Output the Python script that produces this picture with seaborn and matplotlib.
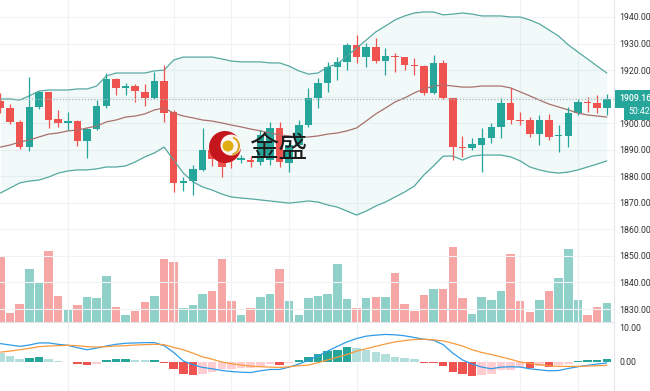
import numpy as np
import matplotlib
matplotlib.use("Agg")
import matplotlib.pyplot as plt
import seaborn as sns
from matplotlib.patches import Circle, Wedge

# ---- data (hourly gold candles) ----
opens = [1908.4, 1905.7, 1900.5, 1891.0, 1906.1, 1911.8, 1901.6, 1900.1, 1900.8, 1893.3,
         1897.8, 1906.5, 1916.6, 1913.3, 1914.0, 1911.8, 1909.5, 1915.9, 1904.2, 1877.5,
         1878.2, 1882.4, 1889.9, 1886.5, 1886.8, 1886.1, 1886.1, 1885.4, 1886.1, 1898.2,
         1885.0, 1891.8, 1899.3, 1909.5, 1915.1, 1921.2, 1923.1, 1929.5, 1924.9, 1928.7,
         1923.4, 1925.3, 1924.9, 1921.9, 1921.5, 1911.4, 1922.7, 1909.5, 1891.0, 1890.7,
         1891.8, 1894.4, 1898.6, 1907.6, 1901.2, 1901.2, 1895.9, 1901.2, 1895.2, 1895.2,
         1903.8, 1908.0, 1907.6, 1905.7]
highs = [1911.4, 1907.2, 1901.2, 1917.4, 1912.1, 1911.9, 1905.0, 1904.2, 1901.2, 1898.2,
         1908.7, 1918.9, 1917.0, 1915.1, 1914.8, 1914.8, 1919.3, 1921.9, 1905.0, 1879.7,
         1884.3, 1898.2, 1891.5, 1888.0, 1888.5, 1888.0, 1887.5, 1897.4, 1900.5, 1900.5,
         1893.7, 1901.2, 1913.3, 1917.0, 1923.1, 1924.9, 1930.2, 1933.2, 1930.2, 1932.1,
         1928.3, 1926.4, 1925.0, 1924.6, 1922.0, 1925.7, 1923.8, 1909.6, 1895.2, 1894.4,
         1898.2, 1900.1, 1909.5, 1913.3, 1904.2, 1902.3, 1903.1, 1903.5, 1899.3, 1906.1,
         1909.1, 1909.9, 1910.6, 1911.0]
lows = [1903.8, 1899.7, 1890.3, 1889.5, 1905.3, 1898.2, 1898.6, 1897.4, 1891.4, 1886.9,
        1897.4, 1905.7, 1910.6, 1910.6, 1908.0, 1906.5, 1909.1, 1900.5, 1874.1, 1874.5,
        1873.0, 1882.0, 1884.0, 1879.7, 1883.0, 1885.0, 1883.5, 1884.3, 1884.3, 1883.5,
        1881.6, 1891.0, 1898.6, 1905.7, 1911.8, 1916.3, 1920.0, 1922.7, 1921.2, 1922.7,
        1918.2, 1919.3, 1920.0, 1918.2, 1910.6, 1911.0, 1909.3, 1886.1, 1887.3, 1889.9,
        1881.6, 1892.5, 1894.4, 1899.7, 1899.3, 1894.8, 1891.8, 1893.7, 1889.2, 1891.0,
        1903.1, 1904.2, 1903.8, 1903.1]
closes = [1905.7, 1900.5, 1891.0, 1906.1, 1911.8, 1901.2, 1900.1, 1900.8, 1893.3, 1897.8,
          1906.5, 1916.6, 1913.3, 1914.0, 1912.1, 1909.5, 1915.9, 1903.8, 1877.5, 1878.2,
          1882.8, 1889.9, 1886.5, 1883.5, 1886.0, 1886.9, 1885.4, 1895.6, 1898.2, 1885.4,
          1891.8, 1899.3, 1909.5, 1915.1, 1921.2, 1923.1, 1929.5, 1924.9, 1928.7, 1923.4,
          1925.3, 1924.9, 1921.9, 1921.5, 1911.4, 1922.7, 1909.5, 1891.0, 1890.7, 1892.2,
          1894.4, 1898.6, 1907.6, 1901.2, 1900.8, 1895.9, 1901.2, 1894.8, 1895.6, 1903.8,
          1908.0, 1907.6, 1905.7, 1909.16]
volume = [6500, 900, 1800, 5300, 3900, 7100, 2600, 1200, 1700, 2500, 2400, 4600, 1500, 700,
          1100, 2000, 2600, 6300, 6000, 1400, 1700, 2800, 3100, 6300, 2100, 700, 1400, 2500,
          2800, 5300, 2100, 700, 2400, 2600, 2800, 5800, 2300, 1400, 2400, 2500, 2500, 4900,
          1800, 1100, 2700, 3300, 3300, 7500, 2400, 800, 2500, 2200, 3100, 6800, 2100, 1000,
          2200, 3100, 4400, 7300, 2200, 700, 1500, 1900]

# Bollinger bands
bb_upper = [1909.1, 1909.1, 1908.7, 1910.3, 1912.1, 1912.5, 1912.5, 1912.5, 1912.9, 1912.9,
            1914.0, 1917.8, 1918.9, 1918.9, 1918.9, 1918.9, 1919.7, 1920.0, 1923.8, 1924.9,
            1924.9, 1924.9, 1924.9, 1924.2, 1923.4, 1923.1, 1923.1, 1923.1, 1922.7, 1922.7,
            1921.5, 1919.7, 1918.5, 1918.9, 1921.2, 1922.3, 1925.3, 1928.3, 1931.3, 1934.4,
            1936.6, 1938.9, 1940.4, 1941.5, 1941.9, 1941.9, 1940.8, 1941.1, 1941.5, 1941.1,
            1940.4, 1940.4, 1940.4, 1940.0, 1940.0, 1938.9, 1937.4, 1935.1, 1932.8, 1929.5,
            1926.8, 1924.2, 1921.5, 1918.9]
bb_mid = [1891.0, 1891.8, 1892.9, 1893.7, 1894.8, 1895.9, 1896.3, 1897.1, 1897.4, 1898.2,
          1898.9, 1900.5, 1901.2, 1902.3, 1902.7, 1903.5, 1905.0, 1905.7, 1903.8, 1902.7,
          1902.0, 1901.2, 1900.8, 1900.1, 1899.3, 1898.6, 1897.8, 1897.1, 1896.3, 1895.6,
          1895.2, 1894.8, 1894.8, 1895.2, 1895.9, 1896.3, 1897.1, 1898.2, 1900.8, 1903.5,
          1905.7, 1908.0, 1909.5, 1911.4, 1912.9, 1914.0, 1914.4, 1914.0, 1913.6, 1913.6,
          1914.0, 1914.0, 1914.0, 1913.3, 1911.8, 1910.3, 1908.7, 1907.2, 1906.1, 1905.0,
          1903.8, 1903.1, 1902.7, 1902.3]
bb_lower = [1873.7, 1875.6, 1877.5, 1878.2, 1878.6, 1879.7, 1881.2, 1882.0, 1882.4, 1882.4,
            1882.8, 1883.5, 1883.5, 1883.9, 1885.4, 1887.3, 1888.8, 1891.0, 1886.1, 1881.2,
            1877.9, 1876.0, 1874.8, 1873.3, 1872.2, 1871.8, 1871.5, 1871.1, 1870.7, 1870.3,
            1869.9, 1870.3, 1870.7, 1870.3, 1869.2, 1868.4, 1866.9, 1865.4, 1866.9, 1868.8,
            1870.3, 1872.2, 1874.1, 1876.3, 1880.5, 1883.9, 1887.6, 1887.6, 1886.1, 1887.6,
            1888.0, 1888.0, 1888.0, 1887.3, 1885.8, 1883.5, 1882.4, 1881.6, 1881.2, 1881.6,
            1882.4, 1883.5, 1884.6, 1885.8]

# MACD
macd_line = [5.4, 5.0, 4.6, 5.0, 5.6, 5.6, 5.2, 4.9, 4.2, 3.6, 4.1, 4.7, 5.2, 5.5, 5.6, 5.7,
             5.7, 4.8, 2.8, 0.3, -0.8, -1.6, -2.0, -2.5, -2.8, -3.0, -3.1, -2.6, -2.2, -2.2,
             -1.5, -0.6, 0.5, 1.8, 3.2, 4.6, 5.9, 6.9, 7.6, 7.9, 8.1, 8.0, 7.7, 7.2, 6.7, 6.4,
             5.1, 2.6, 0.6, -0.6, -1.5, -2.0, -1.5, -1.4, -1.5, -2.0, -2.3, -2.6, -2.5, -1.9,
             -1.4, -1.0, -0.6, -0.3]
signal_line = [2.9, 3.2, 3.6, 4.0, 4.5, 4.7, 4.8, 4.9, 4.8, 4.5, 4.4, 4.5, 4.7, 4.8, 5.0, 5.1,
               5.2, 5.1, 4.3, 3.6, 2.6, 1.5, 0.8, 0.0, -0.5, -0.9, -1.2, -1.4, -1.5, -1.6,
               -1.4, -1.1, -0.9, -0.2, 0.6, 1.4, 2.2, 3.2, 3.9, 4.6, 5.3, 5.9, 6.3, 6.6, 6.7,
               6.5, 6.2, 5.5, 4.7, 3.6, 2.8, 2.2, 1.5, 0.8, 0.0, -0.4, -0.8, -1.1, -1.3, -1.3,
               -1.3, -1.2, -1.1, -1.0]
macd_hist = [2.6, 1.8, 0.8, 1.1, 1.5, 0.8, 0.3, 0.1, -0.7, -0.9, -0.5, 0.5, 0.8, 1.0, 0.7, 0.5,
             0.6, -0.3, -2.2, -3.4, -3.9, -3.6, -2.9, -2.2, -2.0, -1.9, -1.7, -1.5, -0.7, -0.8,
             -0.3, 0.5, 1.6, 2.4, 3.2, 3.6, 4.4, 4.1, 3.4, 2.9, 2.4, 1.6, 1.2, 1.0, -0.3, -0.4,
             -1.2, -2.9, -3.6, -4.1, -3.9, -3.4, -2.4, -2.3, -1.5, -1.8, -1.3, -1.5, -1.0, -0.5,
             0.3, 0.5, 0.7, 1.0]

# candles where a new session starts (vertical grid)
session_starts = [7, 18, 24, 30, 37, 54, 60]
price_ticks = [1830, 1840, 1850, 1860, 1870, 1880, 1890, 1900, 1910, 1920, 1930, 1940]
macd_ticks = [-10, 0, 10]
countdown = "50:42"
watermark = "金盛"

# ---- style ----
sns.set_theme(style="white")
plt.rcParams["font.family"] = ["Roboto", "Noto Sans CJK SC", "DejaVu Sans"]

UP, DOWN = "#26a69a", "#ef5350"
GRID = "#f0f2f6"
LABEL_SIZE = 6.3

o, h, l, c = map(np.array, (opens, highs, lows, closes))
idx = np.arange(len(c))
is_up = c >= o
candle_col = np.where(is_up, UP, DOWN)
vol_col = np.where(is_up, "#8fd1c9", "#f6a6a4")

hist = np.array(macd_hist)
prev = np.r_[np.inf, hist[:-1]]
hist_col = np.where(hist >= 0,
                    np.where(hist > prev, UP, "#b2dfdb"),
                    np.where(hist < prev, DOWN, "#ffcdd2"))

fig = plt.figure(figsize=(6.5, 3.91), dpi=100)
ax = fig.add_axes([0, 69 / 391, 614 / 650, 322 / 391])
axm = fig.add_axes([0, -9 / 391, 614 / 650, 78 / 391], sharex=ax)

# volume overlay on its own scale, behind the candles
axv = ax.twinx()
axv.bar(idx, volume, width=0.88, color=vol_col, linewidth=0)
axv.set_ylim(0, 32200)
axv.axis("off")
ax.set_zorder(axv.get_zorder() + 1)
ax.patch.set_visible(False)

# bollinger bands
ax.fill_between(idx, bb_lower, bb_upper, color=UP, alpha=0.06, linewidth=0)
sns.lineplot(x=idx, y=bb_upper, ax=ax, color="#55a9a0", linewidth=0.9)
sns.lineplot(x=idx, y=bb_lower, ax=ax, color="#55a9a0", linewidth=0.9)
sns.lineplot(x=idx, y=bb_mid, ax=ax, color="#a8716c", linewidth=0.9)

# candles
ax.vlines(idx, l, h, colors=candle_col, linewidth=0.9)
ax.bar(idx, np.maximum(np.abs(c - o), 0.35), bottom=np.minimum(o, c), width=0.78,
       color=candle_col, linewidth=0)

ax.axhline(c[-1], color="#9fb9b6", linestyle=(0, (1, 1.5)), linewidth=0.9)

for s in session_starts:
    ax.axvline(s, color=GRID, linewidth=0.9, zorder=0)
    axm.axvline(s, color=GRID, linewidth=0.9, zorder=0)

ax.set_xlim(-0.05, 63.75)
ax.set_ylim(1825.12, 1946.40)
ax.set_yticks(price_ticks)
ax.set_yticklabels([f"{t:.2f}" for t in price_ticks])
ax.yaxis.tick_right()
ax.tick_params(axis="y", length=0, pad=3.6, labelsize=LABEL_SIZE, labelcolor="#333333")
ax.tick_params(axis="x", length=0, labelbottom=False)
ax.grid(axis="y", color=GRID, linewidth=0.8)
ax.set_axisbelow(True)
for sp in ax.spines.values():
    sp.set_visible(False)
ax.spines["right"].set_visible(True)
ax.spines["right"].set_color("#e4e6eb")
ax.spines["right"].set_linewidth(0.8)

# MACD panel
axm.bar(idx, hist, width=0.88, color=hist_col, linewidth=0)
sns.lineplot(x=idx, y=macd_line, ax=axm, color="#2f9be8", linewidth=0.9)
sns.lineplot(x=idx, y=signal_line, ax=axm, color="#f79a3e", linewidth=0.9)
axm.set_ylim(-11.18, 11.76)
axm.set_yticks(macd_ticks)
axm.set_yticklabels([f"{t:.2f}" for t in macd_ticks])
axm.yaxis.tick_right()
axm.tick_params(axis="y", length=0, pad=3.6, labelsize=LABEL_SIZE, labelcolor="#333333")
axm.tick_params(axis="x", length=0, labelbottom=False)
for sp in axm.spines.values():
    sp.set_visible(False)
for side in ("top", "right"):
    axm.spines[side].set_visible(True)
    axm.spines[side].set_color("#e4e6eb")
    axm.spines[side].set_linewidth(0.8)

# last price + countdown labels on the price scale
ax.annotate(f"{c[-1]:.2f}", xy=(1.0, c[-1]), xycoords=ax.get_yaxis_transform(),
            xytext=(3.6, 0), textcoords="offset points", ha="left", va="center",
            color="white", fontsize=LABEL_SIZE, fontweight="medium", annotation_clip=False,
            bbox=dict(boxstyle="square,pad=0.5", fc=UP, ec="none"))
ax.annotate(countdown, xy=(1.0, c[-1]), xycoords=ax.get_yaxis_transform(),
            xytext=(10, -9.3), textcoords="offset points", ha="left", va="center",
            color="white", fontsize=LABEL_SIZE, annotation_clip=False,
            bbox=dict(boxstyle="square,pad=0.45", fc=UP, ec="none"))

# watermark logo
axw = fig.add_axes([0, 0, 1, 1], zorder=10)
axw.set_xlim(0, 650)
axw.set_ylim(391, 0)
axw.axis("off")
axw.add_patch(Circle((225, 147), 16, fc="#c4161c", ec="none"))
axw.add_patch(Circle((231, 145), 10.5, fc="#fbf4ef", ec="none"))
axw.add_patch(Wedge((230, 146), 10, -70, 75, width=2, fc="#d9a520", ec="none"))
axw.add_patch(Circle((228, 146), 5.5, fc="#e0ad14", ec="none"))
axw.text(249, 149, watermark, fontsize=21, fontweight="medium", color="#1b1b1b",
         family=["Noto Sans CJK SC"], ha="left", va="center")

fig.savefig("out.png", dpi=100)
